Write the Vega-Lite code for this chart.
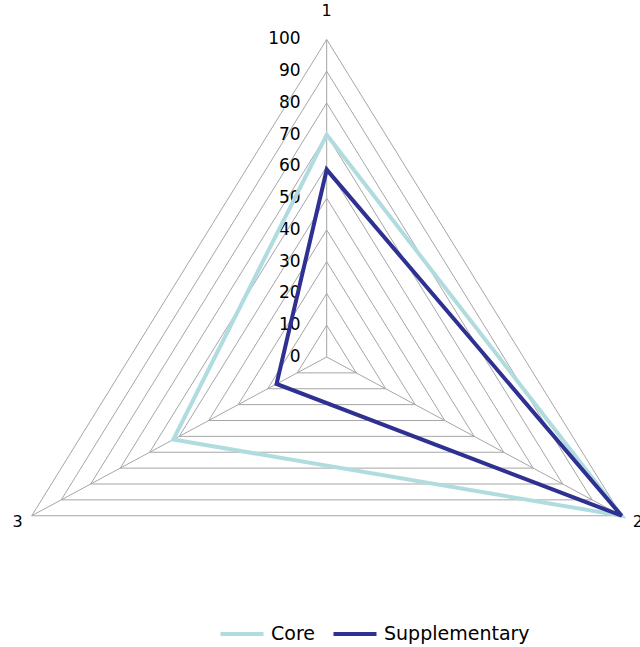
{
  "$schema": "https://vega.github.io/schema/vega-lite/v6.json",
  "width": 640,
  "height": 647,
  "autosize": {"type": "none"},
  "padding": 0,
  "background": "white",
  "config": {"view": {"stroke": null}, "font": "DejaVu Sans"},
  "datasets": {
    "series": [
      {"series": "Core", "axis": 1, "value": 70},
      {"series": "Core", "axis": 2, "value": 100},
      {"series": "Core", "axis": 3, "value": 52},
      {"series": "Supplementary", "axis": 1, "value": 59},
      {"series": "Supplementary", "axis": 2, "value": 100},
      {"series": "Supplementary", "axis": 3, "value": 17}
    ],
    "grid": [
      {"level": 10, "axes": [1, 2, 3]},
      {"level": 20, "axes": [1, 2, 3]},
      {"level": 30, "axes": [1, 2, 3]},
      {"level": 40, "axes": [1, 2, 3]},
      {"level": 50, "axes": [1, 2, 3]},
      {"level": 60, "axes": [1, 2, 3]},
      {"level": 70, "axes": [1, 2, 3]},
      {"level": 80, "axes": [1, 2, 3]},
      {"level": 90, "axes": [1, 2, 3]},
      {"level": 100, "axes": [1, 2, 3]}
    ],
    "axes": [
      {"axis": 1, "label": "1", "ends": [0, 100]},
      {"axis": 2, "label": "2", "ends": [0, 100]},
      {"axis": 3, "label": "3", "ends": [0, 100]}
    ],
    "ticks": [
      {"level": 0}, {"level": 10}, {"level": 20}, {"level": 30}, {"level": 40},
      {"level": 50}, {"level": 60}, {"level": 70}, {"level": 80}, {"level": 90}, {"level": 100}
    ]
  },
  "layer": [
    {
      "data": {"name": "grid"},
      "transform": [
        {"flatten": ["axes"], "as": ["axis"]},
        {"calculate": "datum.level*sin((datum.axis-1)*2*PI/3)", "as": "x"},
        {"calculate": "datum.level*cos((datum.axis-1)*2*PI/3)", "as": "y"}
      ],
      "mark": {"type": "line", "interpolate": "linear-closed", "stroke": "#A6A6A6", "strokeWidth": 1},
      "encoding": {
        "x": {"field": "x", "type": "quantitative", "scale": {"domain": [-95.92, 91.99], "nice": false, "zero": false}, "axis": null},
        "y": {"field": "y", "type": "quantitative", "scale": {"domain": [-91.34, 112.44], "nice": false, "zero": false}, "axis": null},
        "detail": {"field": "level", "type": "nominal"},
        "order": {"field": "axis", "type": "quantitative"}
      }
    },
    {
      "data": {"name": "axes"},
      "transform": [
        {"flatten": ["ends"], "as": ["level"]},
        {"calculate": "datum.level*sin((datum.axis-1)*2*PI/3)", "as": "x"},
        {"calculate": "datum.level*cos((datum.axis-1)*2*PI/3)", "as": "y"}
      ],
      "mark": {"type": "line", "stroke": "#A6A6A6", "strokeWidth": 1},
      "encoding": {
        "x": {"field": "x", "type": "quantitative", "scale": {"domain": [-95.92, 91.99], "nice": false, "zero": false}, "axis": null},
        "y": {"field": "y", "type": "quantitative", "scale": {"domain": [-91.34, 112.44], "nice": false, "zero": false}, "axis": null},
        "detail": {"field": "axis", "type": "nominal"},
        "order": {"field": "level", "type": "quantitative"}
      }
    },
    {
      "data": {"name": "ticks"},
      "transform": [
        {"calculate": "datum.level*sin(0)", "as": "x"}
      ],
      "mark": {"type": "text", "align": "right", "baseline": "middle", "dx": -26, "fontSize": 17, "font": "DejaVu Sans", "color": "#000000"},
      "encoding": {
        "x": {"field": "x", "type": "quantitative", "scale": {"domain": [-95.92, 91.99], "nice": false, "zero": false}, "axis": null},
        "y": {"field": "level", "type": "quantitative", "scale": {"domain": [-91.34, 112.44], "nice": false, "zero": false}, "axis": null},
        "text": {"field": "level", "type": "quantitative"}
      }
    },
    {
      "data": {"name": "axes"},
      "transform": [
        {"filter": "datum.axis == 1"},
        {"calculate": "100*sin((datum.axis-1)*2*PI/3)", "as": "x"},
        {"calculate": "100*cos((datum.axis-1)*2*PI/3)", "as": "y"}
      ],
      "mark": {"type": "text", "align": "center", "baseline": "middle", "dy": -28, "fontSize": 16, "font": "DejaVu Sans", "color": "#000000"},
      "encoding": {
        "x": {"field": "x", "type": "quantitative", "scale": {"domain": [-95.92, 91.99], "nice": false, "zero": false}, "axis": null},
        "y": {"field": "y", "type": "quantitative", "scale": {"domain": [-91.34, 112.44], "nice": false, "zero": false}, "axis": null},
        "text": {"field": "label", "type": "nominal"}
      }
    },
    {
      "data": {"name": "axes"},
      "transform": [
        {"filter": "datum.axis == 2"},
        {"calculate": "100*sin((datum.axis-1)*2*PI/3)", "as": "x"},
        {"calculate": "100*cos((datum.axis-1)*2*PI/3)", "as": "y"}
      ],
      "mark": {"type": "text", "align": "left", "baseline": "middle", "dx": 11, "dy": 6, "fontSize": 16, "font": "DejaVu Sans", "color": "#000000"},
      "encoding": {
        "x": {"field": "x", "type": "quantitative", "scale": {"domain": [-95.92, 91.99], "nice": false, "zero": false}, "axis": null},
        "y": {"field": "y", "type": "quantitative", "scale": {"domain": [-91.34, 112.44], "nice": false, "zero": false}, "axis": null},
        "text": {"field": "label", "type": "nominal"}
      }
    },
    {
      "data": {"name": "axes"},
      "transform": [
        {"filter": "datum.axis == 3"},
        {"calculate": "100*sin((datum.axis-1)*2*PI/3)", "as": "x"},
        {"calculate": "100*cos((datum.axis-1)*2*PI/3)", "as": "y"}
      ],
      "mark": {"type": "text", "align": "right", "baseline": "middle", "dx": -9, "dy": 6, "fontSize": 16, "font": "DejaVu Sans", "color": "#000000"},
      "encoding": {
        "x": {"field": "x", "type": "quantitative", "scale": {"domain": [-95.92, 91.99], "nice": false, "zero": false}, "axis": null},
        "y": {"field": "y", "type": "quantitative", "scale": {"domain": [-91.34, 112.44], "nice": false, "zero": false}, "axis": null},
        "text": {"field": "label", "type": "nominal"}
      }
    },
    {
      "data": {"name": "series"},
      "transform": [
        {"calculate": "datum.value*sin((datum.axis-1)*2*PI/3)", "as": "x"},
        {"calculate": "datum.value*cos((datum.axis-1)*2*PI/3)", "as": "y"}
      ],
      "mark": {"type": "line", "interpolate": "linear-closed", "strokeWidth": 4},
      "encoding": {
        "x": {"field": "x", "type": "quantitative", "scale": {"domain": [-95.92, 91.99], "nice": false, "zero": false}, "axis": null},
        "y": {"field": "y", "type": "quantitative", "scale": {"domain": [-91.34, 112.44], "nice": false, "zero": false}, "axis": null},
        "order": {"field": "axis", "type": "quantitative"},
        "color": {
          "field": "series",
          "type": "nominal",
          "scale": {"domain": ["Core", "Supplementary"], "range": ["#B0DCDF", "#2E3192"]},
          "legend": {
            "orient": "none",
            "direction": "horizontal",
            "legendX": 218,
            "legendY": 610,
            "title": null,
            "symbolType": "stroke",
            "symbolSize": 1850,
            "symbolStrokeWidth": 4,
            "labelFontSize": 19,
            "labelFont": "DejaVu Sans",
            "labelColor": "#000000",
            "columnPadding": 10,
            "labelOffset": 5
          }
        }
      }
    }
  ]
}
